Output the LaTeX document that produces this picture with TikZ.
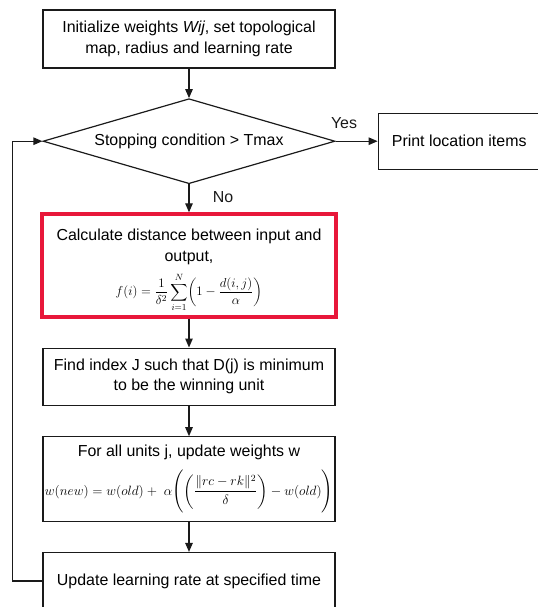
\RequirePackage{fix-cm}
\documentclass[tikz,border=0pt]{standalone}
\usepackage{amsmath}
\usepackage[no-math]{fontspec}
\setmainfont{Liberation Sans}
\usetikzlibrary{arrows.meta, positioning, shapes.geometric}
\definecolor{chartline}{HTML}{1A1A1A}
\definecolor{chartred}{HTML}{E8173A}
\newcommand{\formsize}{\fontsize{13}{16}\selectfont}
\newcommand{\updsize}{\fontsize{13.5}{16}\selectfont}
\tikzset{
  box/.style={draw=chartline, line width=1.2bp, align=center,
              font=\fontsize{16}{20.5}\selectfont, inner sep=4pt,
              minimum width=292bp, fill=white},
  redbox/.style={box, draw=chartred, line width=3.2bp},
  decision/.style={diamond, draw=chartline, line width=1.2bp, aspect=3.4,
              minimum width=292bp, minimum height=85bp, inner sep=0pt,
              font=\fontsize{16}{20.5}\selectfont},
  flow/.style={-{Triangle[length=9bp, width=7.5bp]}, line width=1.2bp, draw=chartline},
  lbl/.style={font=\fontsize{16}{20.5}\selectfont, text=chartline},
}

\begin{document}
\begin{tikzpicture}
  \useasboundingbox (0,0) rectangle (538bp,-607bp);

  % Steps
  \node[box, minimum height=58bp] (init) at (189bp,-39bp)
    {Initialize weights \textit{Wij}, set topological\\
     map, radius and learning rate};
  \node[decision, below=29.5bp of init] (stop) {Stopping condition > Tmax};
  \node[box, minimum width=162bp, minimum height=56bp, right=42bp of stop] (print)
    {Print location items};
  \node[redbox, minimum width=294bp, inner ysep=0pt, text height=82bp, text depth=21bp,
        below=28bp of stop] (dist)
    {Calculate distance between input and\\ output,\\[8pt]
     {\formsize$f(i) = \dfrac{1}{\delta^2}\displaystyle\sum_{i=1}^{N}\biggl(1 - \frac{d(i,j)}{\alpha}\biggr)$}};
  \node[box, minimum height=57bp, below=29bp of dist] (win)
    {Find index J such that D(j) is minimum\\
     to be the winning unit};
  \node[box, minimum height=85bp, inner xsep=1pt, below=30.5bp of win] (upd)
    {For all units j, update weights w\\[9pt]
     {\updsize$w(new) = w(old) +\ \alpha\Biggl(\left(\dfrac{\lVert rc - rk\rVert^2}{\delta}\right) - w(old)\Biggr)$}};
  \node[box, minimum height=57bp, below=29.5bp of upd] (rate)
    {Update learning rate at specified time};

  % Connectors
  \draw[flow] (init) -- (stop);
  \draw[flow] (stop) -- node[lbl, above=9bp, pos=0.2] {Yes} (print);
  \draw[flow] (stop) -- node[lbl, right=20bp, pos=0.45] {No} (dist);
  \draw[flow] (dist) -- (win);
  \draw[flow] (win) -- (upd);
  \draw[flow] (upd) -- (rate);
  \draw[flow] (rate.west) -- ++(-30bp,0) |- (stop.west);
\end{tikzpicture}
\end{document}
